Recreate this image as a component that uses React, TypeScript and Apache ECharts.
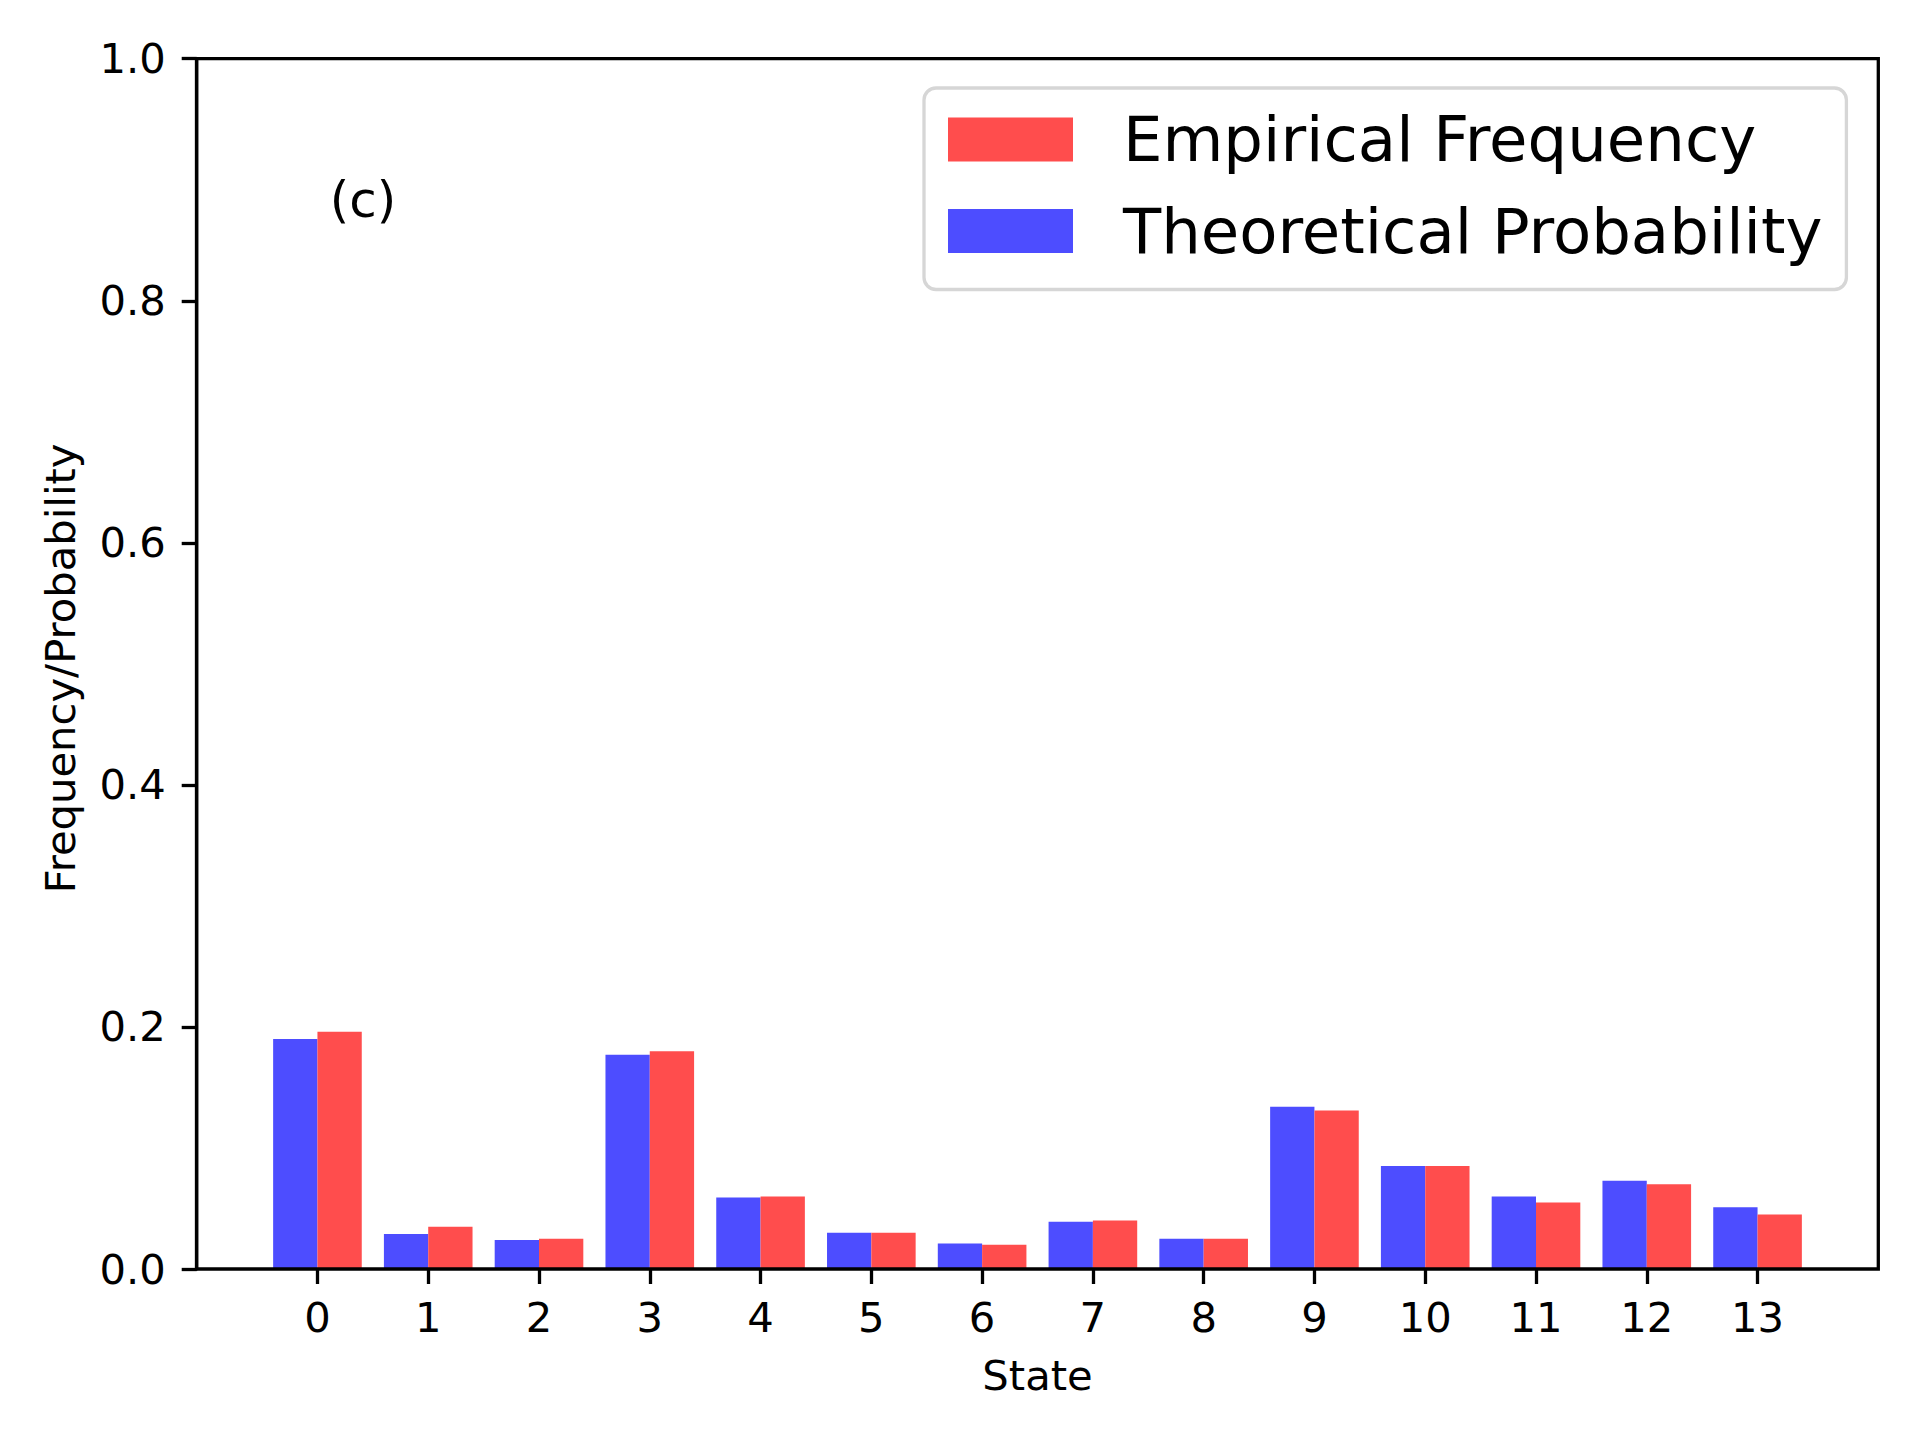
import React, { useEffect, useRef } from "react";
import * as echarts from "echarts";

const states = ["0", "1", "2", "3", "4", "5", "6", "7", "8", "9", "10", "11", "12", "13"];
const theoretical = [0.19, 0.029, 0.024, 0.177, 0.059, 0.03, 0.021, 0.039, 0.025, 0.134, 0.085, 0.06, 0.073, 0.051];
const empirical = [0.196, 0.035, 0.025, 0.18, 0.06, 0.03, 0.02, 0.04, 0.025, 0.131, 0.085, 0.055, 0.07, 0.045];
const yTicks = [0, 0.2, 0.4, 0.6, 0.8, 1.0];

const FONT = "DejaVu Sans";
const BLUE = "#4d4dff";
const RED = "#ff4d4d";

export default function App() {
  const ref = useRef<HTMLDivElement>(null);
  useEffect(() => {
    document.body.style.margin = "0";
    const chart = echarts.init(ref.current!, null, { renderer: "svg" });
    const L = 196.7, R = 1878.3, T = 58.7, B = 1269;
    const W = 1920, H = 1440;
    const span = 15.18; // -1.09 .. 14.09
    const unit = (R - L) / span;
    const catLeft = L + (1.09 - 0.5) * unit;
    const catRight = catLeft + states.length * unit;
    chart.setOption({
      animation: false,
      backgroundColor: "#ffffff",
      textStyle: { fontFamily: FONT },
      grid: [
        {
          left: L, right: W - R, top: T, bottom: H - B,
          show: true, borderColor: "#000", borderWidth: 3.3,
          backgroundColor: "transparent", z: 10,
        },
        { left: catLeft, right: W - catRight, top: T, bottom: H - B },
      ],
      xAxis: [
        {
          type: "value", gridIndex: 0, min: -1.09, max: 14.09,
          axisLine: { show: false }, axisTick: { show: false },
          axisLabel: { show: false }, splitLine: { show: false },
        },
        {
          type: "category", gridIndex: 1, data: states,
          axisLine: { show: false, lineStyle: { color: "#000", width: 3.3 } },
          axisTick: { show: true, alignWithLabel: true, length: 15, lineStyle: { color: "#000", width: 3.3 } },
          axisLabel: { fontSize: 41.7, color: "#000", fontFamily: FONT, margin: 27, interval: 0 },
          splitLine: { show: false },
          name: "State", nameLocation: "middle", nameGap: 85,
          nameTextStyle: { fontSize: 41.7, color: "#000", fontFamily: FONT },
        },
      ],
      yAxis: [
        {
          type: "value", gridIndex: 0, min: 0, max: 1, interval: 0.2,
          axisLine: { show: true, onZero: false, lineStyle: { color: "#000", width: 3.3 } },
          axisTick: { show: true, length: 15, lineStyle: { color: "#000", width: 3.3 } },
          axisLabel: {
            fontSize: 41.7, color: "#000", fontFamily: FONT, margin: 31,
            formatter: (v: number) => (yTicks.some((t) => Math.abs(t - v) < 1e-9) ? v.toFixed(1) : ""),
          },
          splitLine: { show: false },
          name: "Frequency/Probability", nameLocation: "middle", nameGap: 115,
          nameTextStyle: { fontSize: 41.7, color: "#000", fontFamily: FONT, padding: [0, 9, 0, 0] },
        },
        {
          type: "value", gridIndex: 1, min: 0, max: 1, show: false,
          splitLine: { show: false },
        },
      ],
      legend: {
        orient: "vertical",
        left: 924, top: 88,
        padding: [20, 24, 27, 24],
        data: ["Empirical Frequency", "Theoretical Probability"],
        icon: "rect",
        itemWidth: 125, itemHeight: 44, itemGap: 28.5,
        textStyle: { fontSize: 62.5, color: "#000", fontFamily: FONT, lineHeight: 44, padding: [0, 0, 0, 45] },
        borderColor: "#d6d6d6", borderWidth: 3.3, borderRadius: 12,
        backgroundColor: "rgba(255,255,255,0.8)",
      },
      graphic: [
        {
          type: "text", x: 363, y: 200,
          style: { text: "(c)", fontSize: 50, fontFamily: FONT, fill: "#000", textAlign: "center", textVerticalAlign: "middle" },
        },
      ],
      series: [
        {
          name: "Theoretical Probability", type: "bar", xAxisIndex: 1, yAxisIndex: 1,
          data: theoretical, barWidth: 0.4 * unit, barGap: "0%",
          itemStyle: { color: BLUE },
        },
        {
          name: "Empirical Frequency", type: "bar", xAxisIndex: 1, yAxisIndex: 1,
          data: empirical, barWidth: 0.4 * unit, barGap: "0%",
          itemStyle: { color: RED },
        },
      ],
    });
    return () => chart.dispose();
  }, []);
  return <div ref={ref} style={{ width: 1920, height: 1440, position: "absolute", left: 0, top: 0 }} />;
}
